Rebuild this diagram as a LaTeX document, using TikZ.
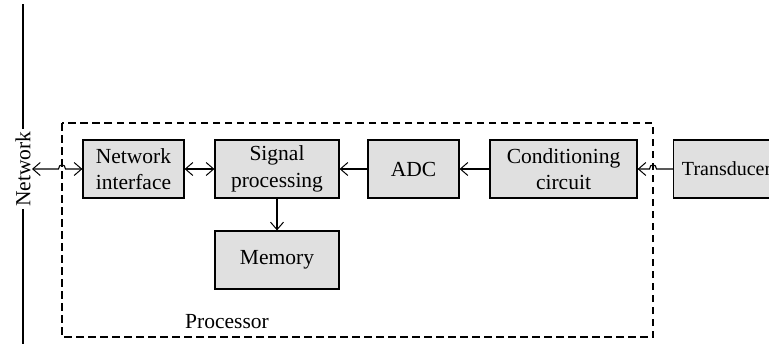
\documentclass[tikz,border=0pt]{standalone}
\usepackage{fontspec}
\setmainfont{Liberation Serif}
\usetikzlibrary{arrows.meta,calc}
\begin{document}
\begin{tikzpicture}[x=1pt,y=-1pt,
  txt/.style={font=\fontsize{21.5}{26.5}\selectfont},
  blk/.style={txt, draw=black, line width=1.2pt, fill=gray!24, minimum height=58pt, inner sep=0pt, align=center},
  tip/.tip={Straight Barb[length=7.5pt,width=13pt,line width=1pt]},
  conn/.style={line width=1.1pt, -tip},
  dconn/.style={line width=1.1pt, tip-tip},
  frame/.style={line width=1.1pt, dash pattern=on 7.5pt off 4.5pt}]
\useasboundingbox (0,0) rectangle (769,343);
\clip (0,0) rectangle (769,343);
% network bus
\draw[line width=1.4pt] (23,4) -- (23,345);
\node[txt, rotate=90, fill=white, inner xsep=2pt, inner ysep=1pt] (net) at (23,169) {Network};
\coordinate (nettip) at (32,169);
% processor frame
\draw[frame] (62,123) rectangle (653,337);
\node[txt] (proc) at (227,322) {Processor};
% blocks
\node[blk, minimum width=101pt] (ni) at (133.5,169) {Network\\interface};
\node[blk, minimum width=124pt] (sp) at (277,169) {Signal\\processing};
\node[blk, minimum width=124pt] (mem) at (277,260) {Memory};
\node[blk, minimum width=91pt] (adc) at (413.5,169) {ADC};
\node[blk, minimum width=147pt] (cc) at (563.5,169) {Conditioning\\circuit};
\node[blk, minimum width=106pt, anchor=west, inner xsep=4pt, font=\fontsize{20}{25}\selectfont] (tr) at (673,169) {Transducer};
% hops
\coordinate (h1a) at (58.5,169);
\coordinate (h1b) at (65.5,169);
\coordinate (h2a) at (656.5,169);
\coordinate (h2b) at (649.5,169);
% connectors
\draw[dconn] (nettip) -- (h1a) .. controls ($(h1a)+(0,-5.5)$) and ($(h1b)+(0,-5.5)$) .. (h1b) -- (ni.west);
\draw[dconn] (ni.east) -- (sp.west);
\draw[conn] (adc.west) -- (sp.east);
\draw[conn] (cc.west) -- (adc.east);
\draw[conn] (tr.west) -- (h2a) .. controls ($(h2a)+(0,-5.5)$) and ($(h2b)+(0,-5.5)$) .. (h2b) -- (cc.east);
\draw[conn] (sp.south) -- (mem.north);
\end{tikzpicture}
\end{document}
